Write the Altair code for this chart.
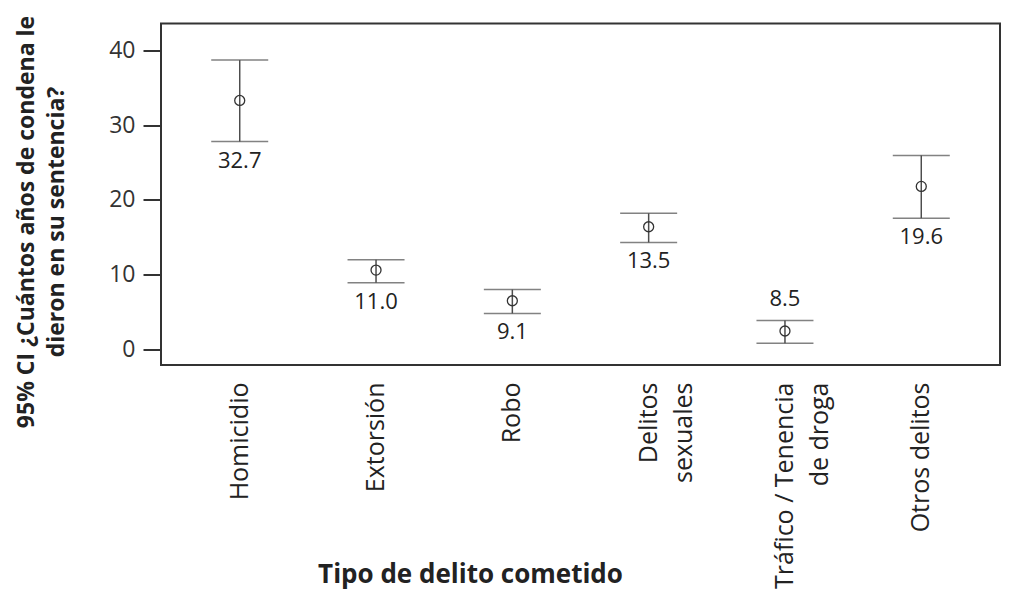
import altair as alt
import pandas as pd

# ---- data ----
categories = ["Homicidio", "Extorsión", "Robo", "Delitos\nsexuales",
              "Tráfico / Tenencia\nde droga", "Otros delitos"]
means = [33.3, 10.6, 6.5, 16.4, 2.45, 21.8]
ci_low = [27.8, 8.9, 4.8, 14.3, 0.8, 17.55]
ci_high = [38.7, 12.0, 8.0, 18.2, 3.85, 25.95]
value_labels = ["32.7", "11.0", "9.1", "13.5", "8.5", "19.6"]
y_ticks = [0, 10, 20, 30, 40]
label_above = ["Tráfico / Tenencia\nde droga"]

df = pd.DataFrame({
    "categoria": categories,
    "media": means,
    "inf": ci_low,
    "sup": ci_high,
    "etiqueta": value_labels,
})

FONT = "Open Sans"
y_title = ["95% CI ¿Cuántos años de condena le", "dieron en su sentencia?"]

yscale = alt.Scale(domain=[-2.1, 43.6], nice=False, zero=False)
yaxis = alt.Axis(
    values=y_ticks, tickSize=18, tickWidth=2, tickColor="#333",
    labelFontSize=23, labelFont=FONT, labelColor="#333", labelPadding=8,
    domain=False, grid=False,
    title=y_title, titleFont=FONT, titleFontSize=23, titleFontWeight="bold",
    titleColor="#222", titleX=-146, titleY=198, titleAlign="center",
    titleBaseline="top", titleLineHeight=30,
)
xaxis = alt.Axis(
    labelAngle=-90, ticks=False, domain=False, grid=False,
    labelPadding=17, labelFontSize=25, labelFont=FONT, labelColor="#222",
    labelLineHeight=35, labelLimit=0, labelOverlap=False,
    labelExpr="split(datum.value, '\\n')",
    title="Tipo de delito cometido", titleFont=FONT, titleFontSize=26,
    titleFontWeight="bold", titleColor="#222", titleX=309, titleY=217,
    titleAlign="center", titleBaseline="alphabetic",
)

X = alt.X("categoria:N", sort=categories, scale=alt.Scale(padding=0.155), axis=xaxis)


def Y(field):
    return alt.Y(f"{field}:Q", scale=yscale, axis=yaxis)


base = alt.Chart(df)

rule = base.mark_rule(color="#4d4d4d", strokeWidth=1.5).encode(x=X, y=Y("inf"), y2="sup:Q")
cap_low = base.mark_tick(color="#4d4d4d", size=57, thickness=1.5).encode(x=X, y=Y("inf"))
cap_high = base.mark_tick(color="#4d4d4d", size=57, thickness=1.5).encode(x=X, y=Y("sup"))
pts = base.mark_point(shape="circle", filled=False, size=100, color="#333",
                      strokeWidth=1.3, opacity=1).encode(x=X, y=Y("media"))

txt_below = base.transform_filter(
    ~alt.FieldOneOfPredicate(field="categoria", oneOf=label_above)
).mark_text(font=FONT, fontSize=22, color="#222", baseline="middle", dy=19).encode(
    x=X, y=Y("inf"), text="etiqueta:N")
txt_above = base.transform_filter(
    alt.FieldOneOfPredicate(field="categoria", oneOf=label_above)
).mark_text(font=FONT, fontSize=22, color="#222", baseline="middle", dy=-22).encode(
    x=X, y=Y("sup"), text="etiqueta:N")

chart = alt.layer(rule, cap_low, cap_high, pts, txt_below, txt_above).properties(
    width=839, height=341.5,
    background="white",
    autosize=alt.AutoSizeParams(type="none"),
    padding={"left": 153, "top": 15.5, "right": 7, "bottom": 225},
).configure_view(stroke="#333", strokeWidth=2)

chart.save("out.html", embed_options={"renderer": "svg", "actions": False})
